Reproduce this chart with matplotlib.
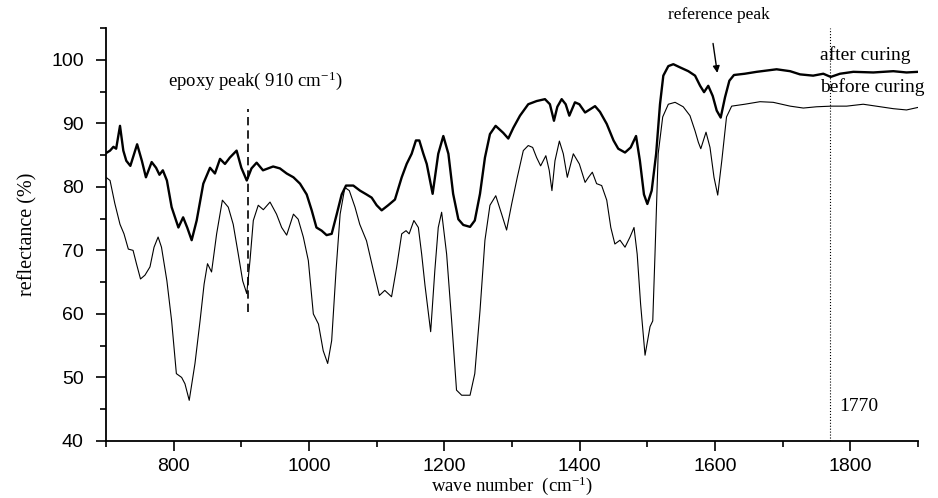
import matplotlib
matplotlib.use("Agg")
import matplotlib.pyplot as plt
from matplotlib.ticker import MultipleLocator

plt.rcParams['mathtext.default'] = 'regular'

# FTIR reflectance spectra of the epoxy film
wn_after = [700, 706, 711, 715, 720.7, 725.6, 730, 736, 746, 753, 759, 767.5, 774, 779, 784, 790,
            797, 807, 814, 820, 826.6, 834, 843.8, 853.7, 861, 868.5, 875.8, 883, 893, 900, 908,
            915, 922.6, 932, 947, 957, 967, 977, 986.7, 996.6, 1004, 1011, 1018.7, 1026, 1033.5,
            1041, 1048.3, 1054.7, 1065.5, 1075.4, 1085, 1092.6, 1100, 1107.4, 1117, 1127, 1137,
            1144.3, 1151.7, 1158, 1163, 1169, 1174, 1182.7, 1191, 1198.5, 1206, 1213, 1220.7, 1228,
            1238, 1245, 1252.7, 1260, 1267.4, 1275.8, 1287, 1294.5, 1302, 1311.8, 1324, 1336.4,
            1348.7, 1356, 1362, 1367, 1373.4, 1379.3, 1384.7, 1393, 1399.5, 1408, 1422.7, 1430,
            1440, 1450, 1457, 1467, 1475.4, 1483.3, 1489, 1495, 1500, 1506.4, 1513, 1518.7, 1523.6,
            1531, 1538.4, 1548.3, 1560.6, 1570.5, 1578, 1583.8, 1590, 1596.6, 1602.5, 1608.4,
            1614.8, 1621.2, 1628, 1644, 1661.5, 1691, 1711, 1725.6, 1745, 1760, 1771, 1784.7,
            1804.4, 1834, 1863.5, 1883, 1900]
refl_after = [85.3, 85.7, 86.3, 86.0, 89.6, 85.7, 84.1, 83.3, 86.7, 84.1, 81.5, 83.9, 83.0, 81.9, 82.6, 81.0,
              76.8, 73.6, 75.2, 73.6, 71.6, 74.7, 80.5, 83.0, 82.1, 84.4, 83.6, 84.6, 85.7, 83.0, 81.0,
              82.9, 83.8, 82.6, 83.2, 82.9, 82.1, 81.5, 80.5, 78.8, 76.3, 73.6, 73.1, 72.4, 72.6,
              75.7, 78.8, 80.2, 80.2, 79.4, 78.8, 78.3, 77.1, 76.3, 77.1, 78.0, 81.5,
              83.6, 85.2, 87.3, 87.3, 85.2, 83.6, 78.9, 85.2, 88.0, 85.2, 78.9, 74.9, 74.0,
              73.7, 74.7, 78.9, 84.6, 88.3, 89.6, 88.5, 87.6, 89.3, 91.2, 93.0, 93.5,
              93.8, 93.0, 90.4, 92.6, 93.8, 93.0, 91.2, 93.3, 93.0, 91.7, 92.7, 91.8,
              89.9, 87.3, 86.0, 85.4, 86.2, 88.0, 84.1, 78.8, 77.3, 79.4, 85.2, 93.0, 97.5,
              99.0, 99.3, 98.8, 98.2, 97.5, 95.9, 94.9, 95.9, 94.3, 92.0, 90.9,
              94.1, 96.7, 97.6, 97.8, 98.1, 98.5, 98.2, 97.7, 97.5, 97.8, 97.3, 97.8,
              98.1, 98.0, 98.2, 98.0, 98.1]

wn_before = [700, 706, 713, 720.7, 726.6, 733, 740, 745, 751, 757.6, 765, 771, 777, 782, 790, 797,
             804, 811.8, 816.7, 823, 831.5, 839, 845, 850, 856, 863.5, 872, 880.7, 888, 895.5, 902,
             908, 912.8, 917.7, 925, 932.5, 942.4, 952, 959.6, 967, 977, 984, 991.6, 999, 1006.4,
             1014, 1021, 1027.6, 1033.5, 1040, 1046, 1053, 1059.6, 1068, 1075, 1085, 1095, 1104,
             1112, 1122, 1129.6, 1137, 1143.4, 1148, 1155, 1161.6, 1166.5, 1171.4, 1179.8, 1186,
             1191, 1196, 1203.4, 1210.8, 1218, 1225.6, 1238, 1245, 1252.7, 1260, 1267.4, 1276,
             1284.7, 1292, 1299.5, 1307.8, 1316.7, 1324, 1330.5, 1336.4, 1342.3, 1350, 1355, 1359,
             1363.5, 1370, 1375.8, 1381.7, 1390.6, 1399.5, 1408, 1413, 1418.7, 1425, 1432.5, 1440,
             1446, 1452, 1459.6, 1467, 1474.4, 1480.3, 1485, 1490, 1496.6, 1504, 1508, 1511.3,
             1516, 1522.7, 1531, 1541, 1553, 1563, 1570.5, 1575.4, 1579, 1586.7, 1592.6, 1598.5,
             1604, 1610, 1617, 1624.6, 1644, 1666.5, 1686, 1711, 1730.5, 1750, 1772, 1794.5, 1819,
             1844, 1863.5, 1883, 1900]
refl_before = [81.5, 81.0, 77.4, 74.1, 72.6, 70.2, 70.0, 67.9, 65.5, 66.1, 67.4, 70.5, 72.1, 70.5, 65.2, 58.9,
               50.6, 50.0, 49.0, 46.4, 52.2, 58.9, 64.7, 67.9, 66.6, 72.6, 77.9, 76.8, 74.1, 69.4, 65.2,
               63.2, 68.4, 74.7, 77.1, 76.4, 77.6, 75.7, 73.6, 72.4, 75.7, 74.9, 72.1, 68.4, 60.0,
               58.4, 54.2, 52.2, 55.8, 66.9, 75.7, 79.9, 79.4, 76.8, 74.1, 71.5, 66.9, 62.9,
               63.7, 62.7, 67.4, 72.6, 73.1, 72.6, 74.7, 73.6, 69.4, 64.5, 57.2, 66.9,
               73.6, 76.0, 69.4, 58.9, 48.0, 47.2, 47.2, 50.6, 60.5, 71.6, 77.1, 78.6,
               75.7, 73.2, 77.3, 81.5, 85.7, 86.5, 86.2, 84.6, 83.3, 84.9, 82.6, 79.4,
               84.1, 87.2, 85.2, 81.5, 85.2, 83.6, 80.7, 81.5, 82.3, 80.5, 80.2, 77.9,
               73.6, 71.0, 71.6, 70.5, 72.1, 73.6, 69.4, 61.6, 53.5, 58.0, 58.9, 69.4,
               85.2, 91.0, 93.0, 93.3, 92.6, 91.2, 88.8, 87.0, 86.0, 88.6, 86.2, 81.5,
               78.7, 84.1, 91.0, 92.7, 93.0, 93.4, 93.3, 92.7, 92.4, 92.6, 92.7, 92.7, 93.0,
               92.6, 92.3, 92.1, 92.5]

x_ticks = [800, 1000, 1200, 1400, 1600, 1800]
y_ticks = [40, 50, 60, 70, 80, 90, 100]
epoxy_wn = 910
marker_wn = 1770

serif = ['Liberation Serif', 'DejaVu Serif']
sans = ['Liberation Sans', 'DejaVu Sans']

fig = plt.figure(figsize=(9.38, 4.98), dpi=100)
ax = fig.add_axes([0.113, 0.1145, 0.8657, 0.8293])

ax.plot(wn_after, refl_after, color='black', lw=1.7)
ax.plot(wn_before, refl_before, color='black', lw=0.8)

ax.set_xlim(700, 1900)
ax.set_ylim(40, 105)
ax.set_xticks(x_ticks)
ax.set_yticks(y_ticks)
ax.xaxis.set_minor_locator(MultipleLocator(100))
ax.yaxis.set_minor_locator(MultipleLocator(5))

for s in ('top', 'right'):
    ax.spines[s].set_visible(False)
for s in ('left', 'bottom'):
    ax.spines[s].set_linewidth(1.3)

ax.tick_params(axis='y', which='major', direction='out', length=7, width=1.2, pad=9)
ax.tick_params(axis='x', which='major', direction='out', length=7, width=1.2, pad=5)
ax.tick_params(which='minor', direction='out', length=4, width=1.2)
for lab in ax.get_xticklabels() + ax.get_yticklabels():
    lab.set_family(sans)
    lab.set_fontsize(14)

ax.set_xlabel('wave number  (cm$^{-1}$)', family=serif, fontsize=13.5, labelpad=0)
ax.set_ylabel('reflectance (%)', family=serif, fontsize=14.5, labelpad=10)

# epoxy band marker
ax.plot([epoxy_wn, epoxy_wn], [60.3, 92.3], color='black', lw=1.2, ls=(0, (5, 3)))
ax.text(920, 96.7, 'epoxy peak( 910 cm$^{-1}$)', family=serif, fontsize=13.5,
        ha='center', va='center')

# 1770 cm-1 reference line
ax.axvline(marker_wn, color='black', lw=0.8, ls=':')
ax.text(1783, 45.4, '1770', family=serif, fontsize=14, ha='left', va='center')

# reference peak arrow
ax.annotate('', xy=(1604, 97.5), xytext=(1596.5, 103.0), annotation_clip=False,
            arrowprops=dict(arrowstyle='-|>', color='black', lw=1.0, mutation_scale=10))
ax.text(1606, 107.1, 'reference peak', family=serif, fontsize=12.5, ha='center', va='center',
        clip_on=False)

ax.text(1755, 100.8, 'after curing', family=serif, fontsize=14, ha='left', va='center')
ax.text(1755, 95.7, 'before curing', family=serif, fontsize=14, ha='left', va='center')

fig.savefig('out.png', dpi=100)
